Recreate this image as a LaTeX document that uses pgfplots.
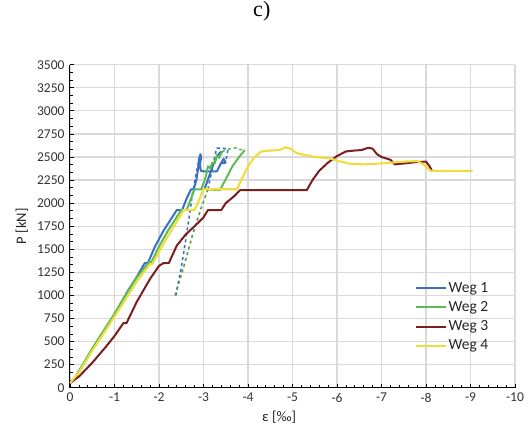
\documentclass[border=0pt]{standalone}
\usepackage{pgfplots}
\pgfplotsset{compat=1.18}
\usepackage{fontspec}
\setmainfont{Carlito}
\newfontfamily\titlefont{Liberation Serif}

\definecolor{wegblue}{HTML}{3A6FC4}
\definecolor{weggreen}{HTML}{5DBB54}
\definecolor{wegred}{HTML}{7A1E1E}
\definecolor{wegyellow}{HTML}{EEDD3A}
\definecolor{gridgray}{HTML}{D9D9D9}

\begin{document}
\begin{tikzpicture}
\path[use as bounding box] (-70pt,-38.3pt) rectangle (460pt,387.7pt);
\begin{axis}[
  at={(0pt,0pt)}, anchor=south west,
  scale only axis, width=445pt, height=323pt,
  x dir=reverse,
  xmin=-10, xmax=0, ymin=0, ymax=3500,
  axis x line*=bottom, axis y line*=left,
  axis line style={black, line width=1pt, -},
  xtick={0,-1,-2,-3,-4,-5,-6,-7,-8,-9,-10},
  xticklabels={0,-1,-2,-3,-4,-5,-6,-7,-8,-9,-10},
  ytick={0,250,...,3500},
  minor x tick num=4, minor y tick num=2,
  tick align=inside,
  major tick length=4pt, minor tick length=3pt,
  tick style={black, line width=0.7pt},
  grid=major,
  major grid style={gridgray, line width=1.2pt},
  /pgf/number format/assume math mode=true,
  /pgf/number format/set thousands separator={},
  ticklabel style={font=\fontsize{13.5}{15}\selectfont, text=black!80},
  xticklabel style={yshift=-2pt},
  yticklabel style={xshift=-2pt},
  xlabel={ε [‰]},
  ylabel={P [kN]},
  label style={font=\fontsize{14.5}{16}\selectfont, text=black!85},
  xlabel style={at={(axis description cs:0.47,-0.093)}, anchor=center},
  ylabel style={at={(axis description cs:-0.108,0.5)}, anchor=center},
  title={\titlefont c)},
  title style={at={(axis description cs:0.431,1.146)}, anchor=center,
    font=\fontsize{22}{24}\selectfont},
  legend style={at={(axis description cs:0.772,0.335)}, anchor=north west,
    draw=none, fill=none, font=\fontsize{15.5}{16}\selectfont,
    row sep=3.5pt, text=black!85, inner sep=1pt},
  legend cell align=left,
  legend image code/.code={\draw[#1, line width=2pt] (0pt,0pt) -- (30pt,0pt);},
  line join=round,
]

% Weg 1 -- loading branch
\addplot[wegblue, line width=2pt] coordinates {
 (0,50) (-0.1,95) (-0.3,250) (-0.5,420) (-0.75,600) (-1.0,790) (-1.3,1050)
 (-1.5,1200) (-1.68,1350) (-1.75,1350) (-1.9,1520) (-2.1,1700) (-2.3,1850)
 (-2.4,1925) (-2.52,1925) (-2.62,2050) (-2.72,2150) (-2.78,2150) (-2.84,2250)
 (-2.88,2380) (-2.9,2480) (-2.93,2530) (-2.95,2500) (-2.92,2420) (-2.94,2350)
 (-3.0,2345) (-3.3,2345) (-3.38,2420) (-3.45,2480) (-3.5,2440) (-3.42,2430)
};
\addlegendentry{Weg 1}
% Weg 1 -- reloading branch
\addplot[wegblue, line width=2pt, forget plot] coordinates {
 (-3.02,2150) (-3.12,2280) (-3.22,2420) (-3.32,2520) (-3.4,2560)
};
\addplot[wegblue, line width=1.6pt, dashed, forget plot] coordinates {
 (-2.38,1000) (-2.5,1300) (-2.6,1600) (-2.68,1850) (-2.75,2100) (-2.85,2350) (-2.92,2520)
};
\addplot[wegblue, line width=1.6pt, dashed, forget plot] coordinates {
 (-3.1,2150) (-3.2,2380) (-3.27,2540) (-3.3,2595) (-3.45,2595) (-3.55,2580) (-3.5,2450)
};

% Weg 2
\addplot[weggreen, line width=2pt] coordinates {
 (0,50) (-0.1,100) (-0.3,260) (-0.5,425) (-0.75,615) (-1.0,800) (-1.3,1045)
 (-1.5,1195) (-1.78,1360) (-1.83,1360) (-2.0,1530) (-2.2,1700) (-2.4,1850)
 (-2.5,1925) (-2.62,1925) (-2.72,2050) (-2.8,2150) (-2.95,2150) (-3.05,2280)
 (-3.1,2400) (-3.15,2380) (-3.2,2440) (-3.25,2430) (-3.3,2520) (-3.35,2490) (-3.42,2560)
};
\addlegendentry{Weg 2}
\addplot[weggreen, line width=2pt, forget plot] coordinates {
 (-3.05,2150) (-3.37,2140) (-3.5,2260) (-3.65,2400) (-3.8,2500) (-3.93,2575)
};
\addplot[weggreen!85!black, line width=1.6pt, dashed, forget plot] coordinates {
 (-2.36,1000) (-2.55,1300) (-2.75,1650) (-2.95,1950) (-3.1,2150)
};
\addplot[weggreen, line width=1.6pt, dashed, forget plot] coordinates {
 (-3.42,2560) (-3.6,2590) (-3.72,2600) (-3.8,2585) (-3.93,2570)
};

% Weg 3
\addplot[wegred, line width=2pt] coordinates {
 (0,50) (-0.2,120) (-0.5,270) (-0.8,440) (-1.0,560) (-1.2,700) (-1.27,700)
 (-1.5,930) (-1.8,1180) (-2.0,1320) (-2.1,1350) (-2.22,1350) (-2.4,1540)
 (-2.6,1660) (-2.8,1750) (-3.0,1845) (-3.1,1925) (-3.4,1925) (-3.5,2000)
 (-3.7,2080) (-3.82,2140) (-5.32,2140) (-5.45,2250) (-5.6,2350) (-5.8,2440)
 (-6.0,2510) (-6.2,2560) (-6.4,2570) (-6.55,2575) (-6.7,2600) (-6.8,2590)
 (-6.9,2530) (-7.0,2500) (-7.2,2470) (-7.3,2420) (-7.5,2430) (-7.8,2445)
 (-8.0,2450) (-8.08,2400) (-8.13,2355)
};
\addlegendentry{Weg 3}

% Weg 4
\addplot[wegyellow, line width=2.1pt] coordinates {
 (0,50) (-0.2,165) (-0.5,400) (-1.0,770) (-1.5,1150) (-1.8,1340) (-1.85,1340)
 (-2.1,1560) (-2.3,1720) (-2.5,1880) (-2.55,1925) (-2.8,1925) (-2.9,2030)
 (-3.0,2150) (-3.75,2150) (-3.85,2250) (-4.0,2400) (-4.15,2500) (-4.3,2560)
 (-4.5,2570) (-4.7,2575) (-4.85,2605) (-4.95,2590) (-5.1,2540) (-5.5,2500)
 (-5.85,2485) (-6.0,2460) (-6.3,2425) (-6.6,2420) (-7.0,2430) (-7.5,2450)
 (-7.8,2455) (-7.95,2420) (-8.1,2350) (-9.05,2350)
};
\addlegendentry{Weg 4}

\end{axis}
\end{tikzpicture}
\end{document}
